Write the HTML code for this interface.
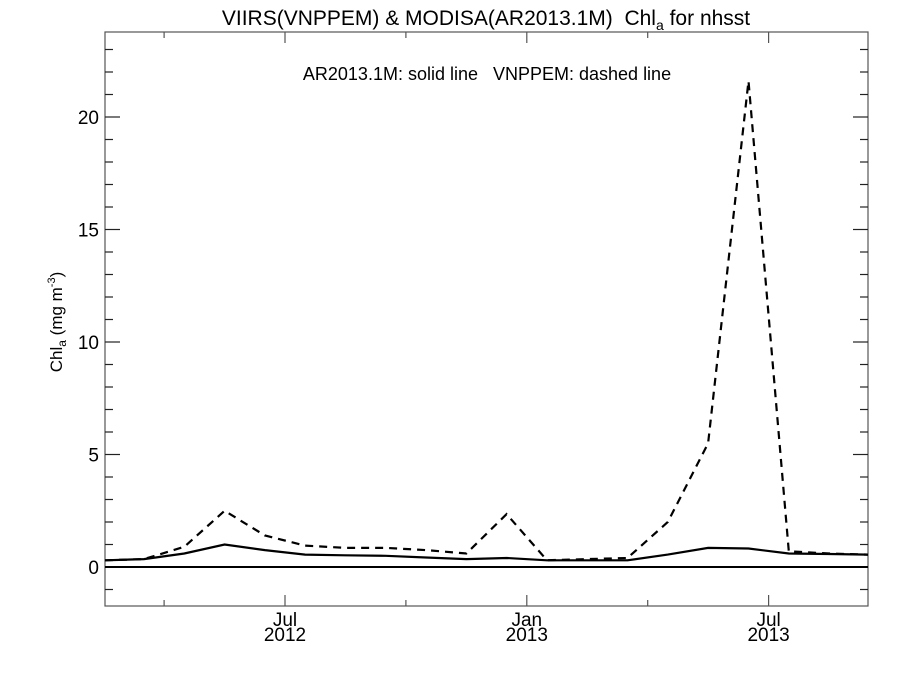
<!DOCTYPE html>
<html><head><meta charset="utf-8"><style>
body{margin:0;background:#fff}
svg text{font-family:"Liberation Sans",sans-serif;fill:#000;white-space:pre}
</style></head><body>
<svg id="chart" width="900" height="675" viewBox="0 0 900 675" xmlns="http://www.w3.org/2000/svg" xml:space="preserve">
<text x="486" y="25" font-size="21" text-anchor="middle">VIIRS(VNPPEM) &amp; MODISA(AR2013.1M)  Chl<tspan font-size="14" dy="5">a</tspan><tspan dy="-5"> for nhsst</tspan></text>
<text x="487" y="80" font-size="18" text-anchor="middle">AR2013.1M: solid line   VNPPEM: dashed line</text>
<text transform="translate(62,322) rotate(-90)" font-size="17" text-anchor="middle">Chl<tspan font-size="12" dy="4">a</tspan><tspan dy="-4"> (mg m</tspan><tspan font-size="11" dy="-7">-3</tspan><tspan dy="7">)</tspan></text>
<rect x="105" y="32" width="763" height="574" fill="none" stroke="#555" stroke-width="1.2"/>
<g id="axes"></g>
<g id="series"></g>
</svg>
<script>
const months = [1.5,2.5,3.5,4.5,5.5,6.5,7.5,8.5,9.5,10.5,11.5,12.5,13.5,14.5,15.5,16.5,17.5,18.5,19.5,20.5];
const vnppem = [0.3,0.35,0.9,2.5,1.4,0.95,0.85,0.85,0.75,0.6,2.35,0.3,0.35,0.4,2.0,5.5,21.6,0.7,0.6,0.55];
const ar2013 = [0.3,0.35,0.6,1.0,0.75,0.55,0.52,0.5,0.42,0.35,0.4,0.3,0.3,0.3,0.55,0.85,0.82,0.6,0.58,0.55];
const yMajor = [0,5,10,15,20];
const xTickMonths = [3,6,9,12,15,18];
const xLabels = [["Jul","2012",6],["Jan","2013",12],["Jul","2013",18]];
const L=105,R=868,T=32,B=606;
const xm=m=>285+(m-6)*40.3;
const yv=v=>567-v*22.5;
const NS="http://www.w3.org/2000/svg";
const ax=document.getElementById('axes'), se=document.getElementById('series');
function mk(tag,attrs,parent){const e=document.createElementNS(NS,tag);for(const k in attrs)e.setAttribute(k,attrs[k]);parent.appendChild(e);return e;}
for(let v=-1;v<=23;v++){
  const y=yv(v), maj=yMajor.includes(v), len=maj?15:8;
  const t1=mk('line',{x1:L,x2:L+len,y1:y,y2:y,stroke:'#222','stroke-width':1.2},ax);
  
  
  const t2=mk('line',{x1:R,x2:R-len,y1:y,y2:y,stroke:'#222','stroke-width':1.2},ax);
  
  
  if(maj){const t=mk('text',{x:L-6,y:y+7,'font-size':19,'text-anchor':'end'},ax);t.textContent=v;
    
    }
}
xTickMonths.forEach(m=>{
  const x=xm(m), len=(m%6===0)?11:6;
  const a=mk('line',{x1:x,x2:x,y1:B,y2:B-len,stroke:'#555','stroke-width':1.2},ax);
  
  
  const b=mk('line',{x1:x,x2:x,y1:T,y2:T+len,stroke:'#555','stroke-width':1.2},ax);
  
  
});
xLabels.forEach(l=>{
  const t=mk('text',{x:xm(l[2]),y:626,'font-size':19,'text-anchor':'middle'},ax);
  
  
  t.innerHTML='<tspan x="'+xm(l[2])+'">'+l[0]+'</tspan><tspan x="'+xm(l[2])+'" dy="15">'+l[1]+'</tspan>';
});
const zl=mk('line',{x1:L,x2:R,y1:yv(0),y2:yv(0),stroke:'#000','stroke-width':2},se);


const pts=a=>a.map((v,i)=>{const x=Math.min(R,Math.max(L,xm(months[i])));return x.toFixed(1)+','+yv(v).toFixed(1);}).join(' ');
const p1=mk('polyline',{points:pts(ar2013),fill:'none',stroke:'#000','stroke-width':2.2},se);


const p2=mk('polyline',{points:pts(vnppem),fill:'none',stroke:'#000','stroke-width':2.2,'stroke-dasharray':'8,6'},se);


</script>
</body></html>
